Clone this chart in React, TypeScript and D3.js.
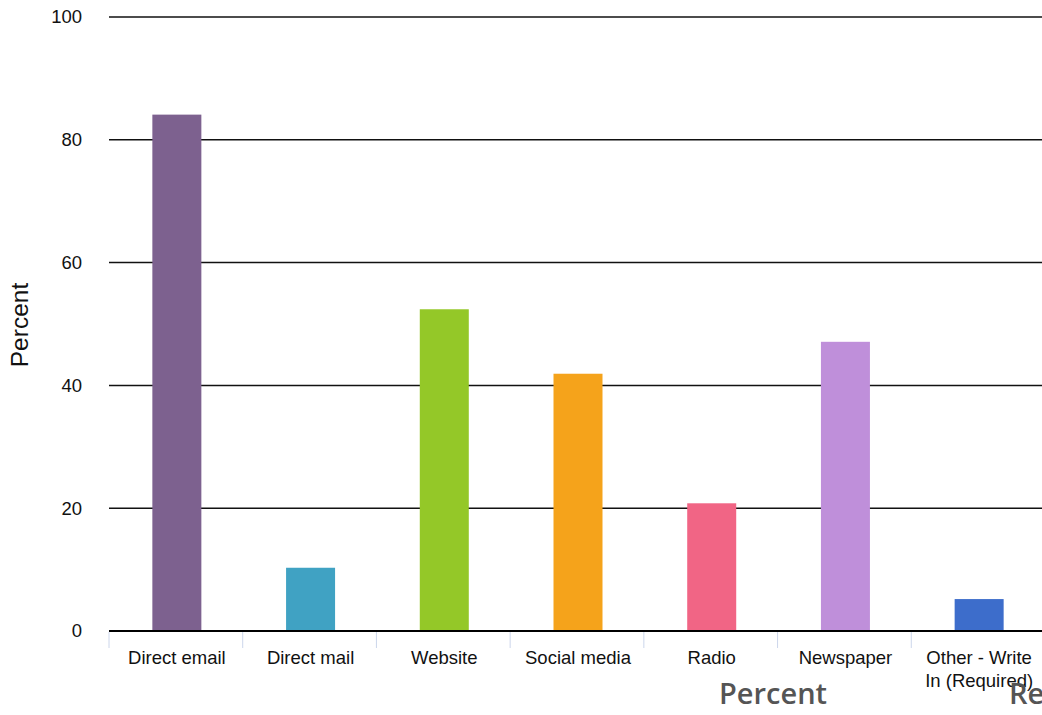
import React from "react";
import * as d3 from "d3";

const categories = ["Direct email", "Direct mail", "Website", "Social media", "Radio", "Newspaper", "Other - Write In (Required)"];
const values = [84.1, 10.3, 52.4, 41.9, 20.8, 47.1, 5.2];
const colors = ["#7d618f", "#40a2c3", "#94c828", "#f5a31b", "#f16585", "#bf8fda", "#3d6dcb"];
const yTicks = [0, 20, 40, 60, 80, 100];
const legendItems = ["Percent", "Response Count"];

const W = 1042;
const H = 715;

function wrapLabel(s: string): string[] {
  if (s === "Other - Write In (Required)") return ["Other - Write", "In (Required)"];
  return [s];
}

export default function App() {
  const x = d3.scaleBand<string>().domain(categories).range([109, 1045]).padding(0);
  const y = d3.scaleLinear().domain([0, 100]).range([631, 17]);
  const barW = 49;
  const font = "'Liberation Sans', Arial, Helvetica, sans-serif";
  return (
    <svg width={W} height={H} style={{ position: "absolute", left: 0, top: 0 }}>
      {yTicks.map((t) => (
        <g key={t}>
          <line x1={109} x2={W} y1={y(t)} y2={y(t)} stroke="#111" strokeWidth={t === 0 ? 2.2 : 1.5} />
          <text x={82} y={y(t)} dy="0.35em" textAnchor="end" fontFamily={font} fontSize={18.5} fill="#111">{t}</text>
        </g>
      ))}
      {categories.map((c, i) => (
        <rect key={c} x={x(c)! + x.bandwidth() / 2 - barW / 2 + 1} y={y(values[i])} width={barW} height={y(0) - y(values[i])} fill={colors[i]} />
      ))}
      <line x1={109} x2={W} y1={y(0)} y2={y(0)} stroke="#000" strokeWidth={2.2} />
      {categories.map((c) => (
        <line key={"t" + c} x1={x(c)!} x2={x(c)!} y1={y(0) + 1} y2={y(0) + 17} stroke="#ccd6eb" strokeWidth={1} />
      ))}
      {categories.map((c) => (
        <text key={"l" + c} x={x(c)! + x.bandwidth() / 2 + 1} y={664} textAnchor="middle" fontFamily={font} fontSize={18.5} fill="#111">
          {wrapLabel(c).map((ln, k) => (
            <tspan key={k} x={x(c)! + x.bandwidth() / 2 + 1} dy={k === 0 ? 0 : 23}>{ln}</tspan>
          ))}
        </text>
      ))}
      <text transform={`translate(28,325) rotate(-90)`} textAnchor="middle" fontFamily={font} fontSize={24.5} fill="#111">Percent</text>
      {legendItems.map((s, i) => (
        <text key={s} x={719 + i * 290} y={704} fontFamily="'Open Sans', Lato, sans-serif" fontWeight={600} fontSize={29} fill="#555">{s}</text>
      ))}
    </svg>
  );
}
